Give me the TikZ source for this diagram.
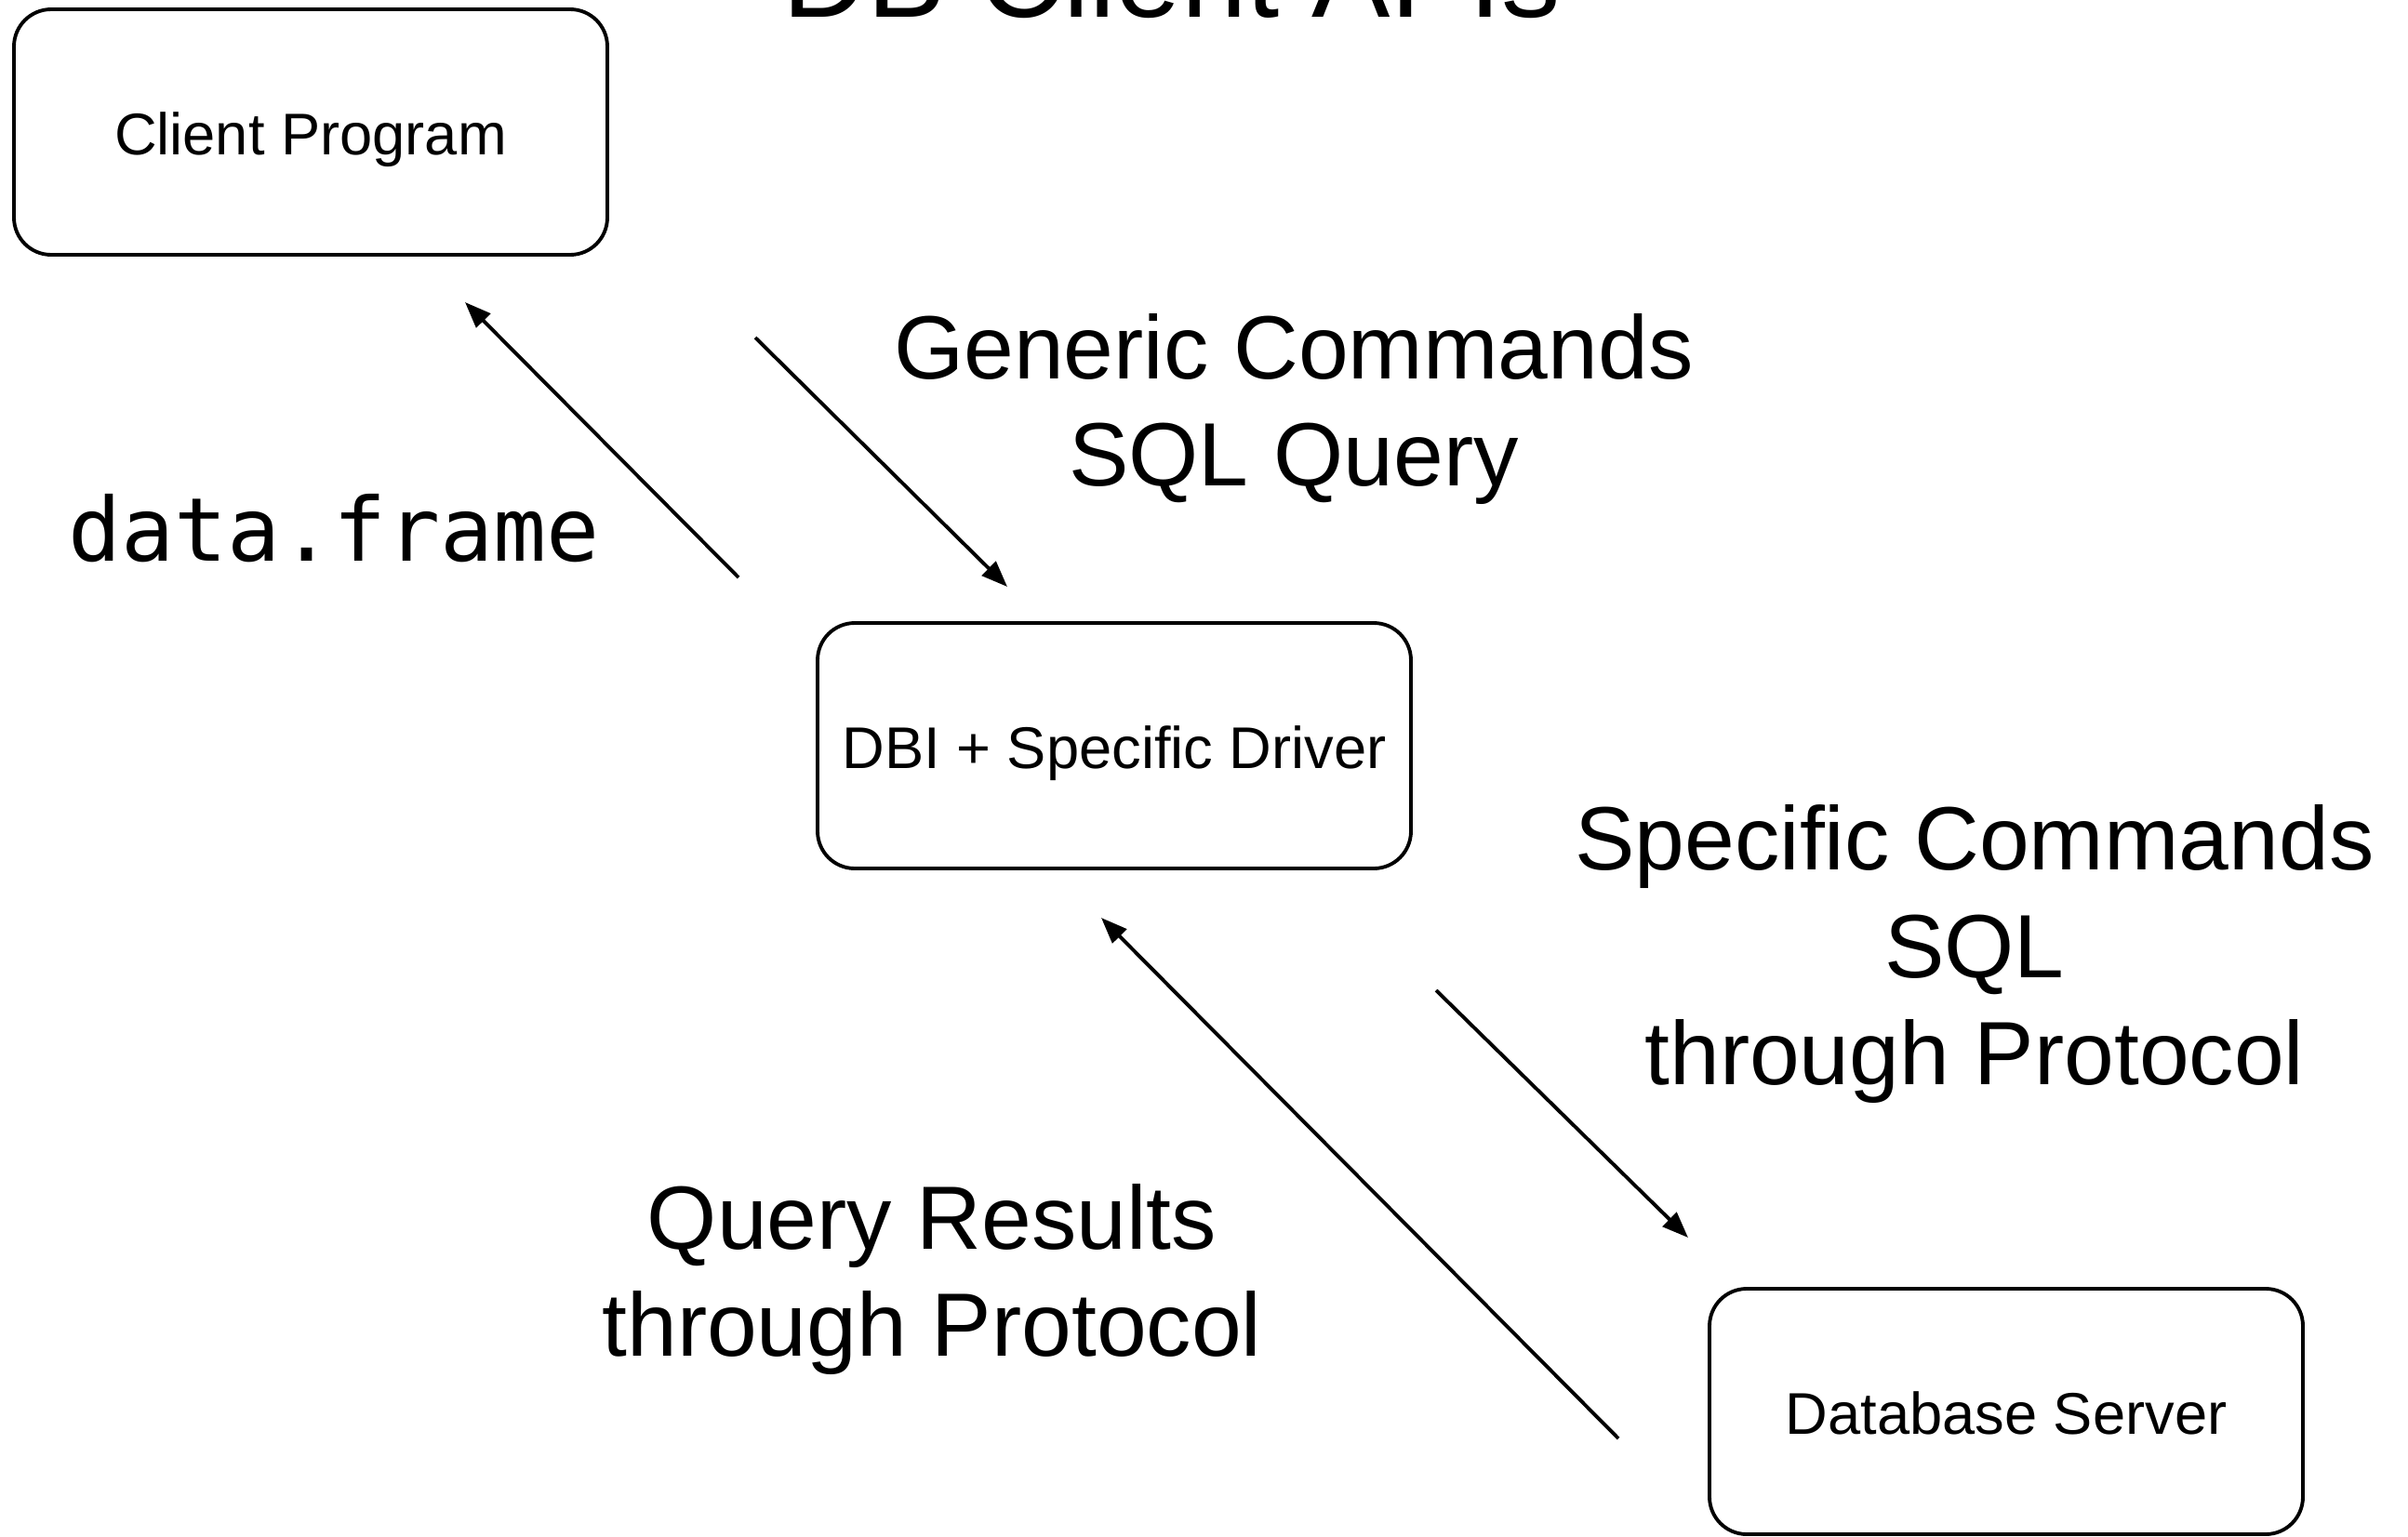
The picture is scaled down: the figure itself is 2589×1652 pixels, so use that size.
\documentclass[tikz,border=0pt]{standalone}
\usepackage{fontspec}
\setmainfont{Liberation Sans}
\newfontfamily\codefont{DejaVu Sans Mono}
\usetikzlibrary{arrows.meta}
\begin{document}
\begin{tikzpicture}[x=0.1mm,y=-0.1mm,
  box/.style={draw, line width=1.1pt, rounded corners=4mm, minimum width=63.8mm, minimum height=26.4mm, inner sep=0pt, text height=17.5pt, text depth=3.6pt, font=\fontsize{18}{22}\selectfont},
  biglabel/.style={align=center, inner sep=0pt, font=\fontsize{27.5}{33}\selectfont},
  flow/.style={line width=1.1pt, -{Triangle[length=8pt,width=6pt]}}]
\useasboundingbox (0,0) rectangle (2589,1652);
% title (cut off at top, as in the original)
\node[anchor=base, inner sep=0pt, font=\fontsize{36}{43}\selectfont] (title) at (1260,18) {DB Client APIs};
% boxes
\node[box] (client) at (334,142) {Client Program};
\node[box] (dbi) at (1198,802) {DBI + Specific Driver};
\node[box] (server) at (2157,1518) {Database Server};
% labels
\node[biglabel] (generic) at (1391,440) {Generic Commands\\SQL Query};
\node[biglabel] (specific) at (2123,1026) {Specific Commands\\SQL\\through Protocol};
\node[biglabel] (results) at (1002,1376) {Query Results\\through Protocol};
\node[inner sep=0pt, anchor=base, font=\codefont\fontsize{27}{33}\selectfont] (df) at (359,603) {data.frame};
% arrow end points
\coordinate (a1s) at (794,621);  \coordinate (a1e) at (500,325);
\coordinate (a2s) at (812,363);  \coordinate (a2e) at (1083,631);
\coordinate (a3s) at (1544,1065); \coordinate (a3e) at (1815,1331);
\coordinate (a4s) at (1740,1547); \coordinate (a4e) at (1184,987);
\draw[flow] (a1s) -- (a1e);
\draw[flow] (a2s) -- (a2e);
\draw[flow] (a3s) -- (a3e);
\draw[flow] (a4s) -- (a4e);
\end{tikzpicture}
\end{document}
